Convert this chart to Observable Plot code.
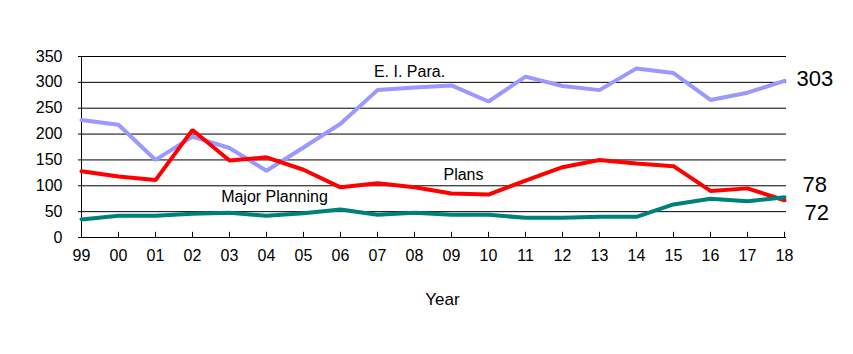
<!DOCTYPE html>
<html>
<head>
<meta charset="utf-8">
<script src="https://cdn.jsdelivr.net/npm/d3@7"></script>
<script src="https://cdn.jsdelivr.net/npm/@observablehq/plot@0.6"></script>
<style>
  body { margin: 0; background: #fff; }
  svg { display: block; }
</style>
</head>
<body>
<div id="chart"></div>
<script>
const years = ["99","00","01","02","03","04","05","06","07","08","09","10","11","12","13","14","15","16","17","18"];
const eiPara = [227, 218, 150, 195, 173, 129, 174, 220, 285, 290, 294, 263, 311, 293, 285, 327, 318, 266, 280, 303];
const plans = [128, 118, 111, 208, 149, 155, 131, 97, 105, 97, 85, 83, 110, 136, 150, 143, 138, 90, 95, 72];
const majorPlanning = [35, 42, 42, 46, 48, 42, 47, 54, 44, 48, 44, 44, 38, 38, 40, 40, 64, 75, 70, 78];
const yTicks = [0, 50, 100, 150, 200, 250, 300, 350];
const seriesNames = ["E. I. Para.", "Plans", "Major Planning"];
const endLabels = ["303", "78", "72"];

const font = "'Liberation Sans', Arial, sans-serif";
const toRows = (vals) => vals.map((v, i) => ({year: years[i], v}));

const chart = Plot.plot({
  width: 853,
  height: 354,
  marginLeft: 78,
  marginRight: 67,
  marginTop: 56,
  marginBottom: 117,
  style: {fontFamily: font, fontSize: "16px", color: "#000", background: "#fff", overflow: "visible"},
  x: {type: "point", domain: years, padding: 0},
  y: {domain: [0, 350]},
  marks: [
    Plot.ruleY(yTicks.slice(1), {stroke: "#000", strokeWidth: 1}),
    Plot.ruleY([0], {stroke: "#000", strokeWidth: 1}),
    Plot.ruleX([years[0]], {y1: 0, y2: 350, stroke: "#000", strokeWidth: 1}),
    Plot.ruleX(years.slice(1), {y1: 0, y2: 10, stroke: "#000", strokeWidth: 1}),
    Plot.axisY({ticks: yTicks, tickSize: 0, tickPadding: 16, label: null, fontSize: 16}),
    Plot.axisX({tickSize: 0, tickPadding: 12, label: null, fontSize: 16}),
    Plot.line(toRows(eiPara), {x: "year", y: "v", stroke: "#9999FF", strokeWidth: 4, strokeLinejoin: "miter"}),
    Plot.line(toRows(plans), {x: "year", y: "v", stroke: "#FF0000", strokeWidth: 4, strokeLinejoin: "miter"}),
    Plot.line(toRows(majorPlanning), {x: "year", y: "v", stroke: "#00807A", strokeWidth: 4, strokeLinejoin: "miter"}),
    Plot.text([seriesNames[0]], {x: () => "08", y: () => 320, dx: -5, fontSize: 16, fill: "#000"}),
    Plot.text([seriesNames[1]], {x: () => "09", y: () => 122, dx: 12, fontSize: 16, fill: "#000"}),
    Plot.text([seriesNames[2]], {x: () => "04", y: () => 78, dx: 8, fontSize: 16, fill: "#000"}),
    Plot.text([endLabels[0]], {x: () => years[19], y: () => eiPara[19], dx: 12, dy: -2, textAnchor: "start", fontSize: 22, fill: "#000"}),
    Plot.text([endLabels[1]], {x: () => years[19], y: () => majorPlanning[19], dx: 18, dy: -12, textAnchor: "start", fontSize: 22, fill: "#000"}),
    Plot.text([endLabels[2]], {x: () => years[19], y: () => plans[19], dx: 20, dy: 13, textAnchor: "start", fontSize: 22, fill: "#000"}),
    Plot.text(["Year"], {frameAnchor: "bottom", dy: 67, dx: 10, fontSize: 17, fill: "#000"})
  ]
});
document.getElementById("chart").appendChild(chart);
</script>
</body>
</html>
